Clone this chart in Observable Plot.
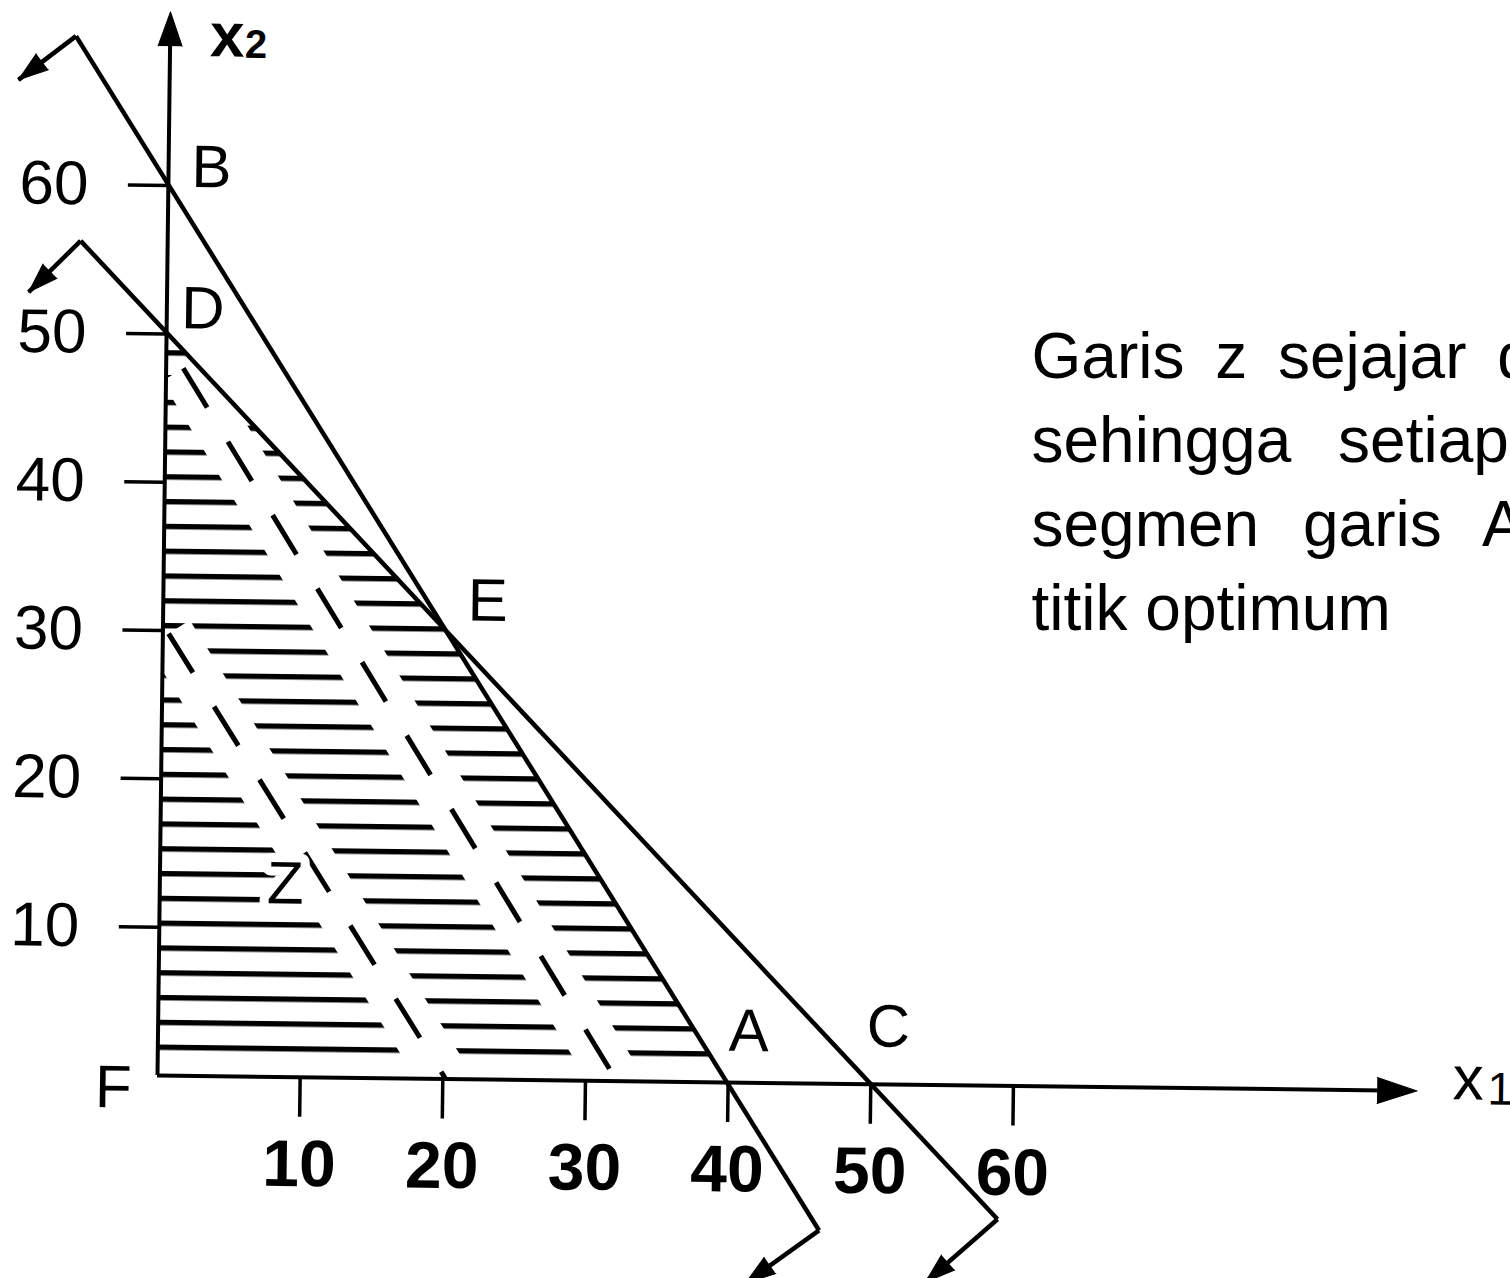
<!DOCTYPE html>
<html>
<head>
<meta charset="utf-8">
<script src="https://cdn.jsdelivr.net/npm/d3@7"></script>
<script src="https://cdn.jsdelivr.net/npm/@observablehq/plot@0.6"></script>
<style>
  html, body { margin: 0; padding: 0; background: #fff; overflow: hidden; }
  #chart svg { display: block; }
</style>
</head>
<body>
<div id="chart"></div>
<script>
// ---------- data ----------
const xTicks = [10, 20, 30, 40, 50, 60];
const yTicks = [10, 20, 30, 40, 50, 60];

// corner points of the graph
const points = [
  {name: "F", x: 0,  y: 0},
  {name: "A", x: 40, y: 0},
  {name: "E", x: 20, y: 30},
  {name: "D", x: 0,  y: 50},
  {name: "B", x: 0,  y: 60},
  {name: "C", x: 50, y: 0}
];

// upper boundary of the feasible region D-E-A
const feasibleBoundary = ["D", "E", "A"];

// constraint lines B–A (3x1+2x2=120) and D–C (x1+x2=50), as drawn (extended ends)
const constraintLines = [
  {name: "BA", x1: -6.6, y1: 70.0, x2: 46.5, y2: -9.9},
  {name: "DC", x1: -6.1, y1: 56.2, x2: 59.0, y2: -9.0}
];

// little direction arrows at the ends of the constraint lines
const directionHooks = [
  {x1: -6.6, y1: 70.0, x2: -10.6, y2: 67.0},
  {x1: -6.1, y1: 56.2, x2: -9.7,  y2: 52.7},
  {x1: 46.5, y1: -9.9, x2: 41.4,  y2: -13.5},
  {x1: 59.0, y1: -9.0, x2: 54.0,  y2: -13.3}
];

// dashed objective (z) lines, parallel to AE
const zLines = [
  {name: "z1", x1: 0.4, y1: 29.8, x2: 20.2, y2: 0},
  {name: "z2", x1: 1.2, y1: 47.7, x2: 32.2, y2: 0}
];
const zLabel = [{text: "Z", x: 8.8, y: 13.0}];

// ends of the axes (arrow tips)
const axisEnds = {x: 88.3, y: 71.7};

const noteLines = [
  "Garis z sejajar dengan",
  "sehingga setiap titik",
  "segmen garis AE",
  "titik optimum"
];

// ---------- layout & styles ----------
const W = 1510, H = 1278;
const frame = {left: 157, right: 1013, top: 185, bottom: 1075};
const kx = (frame.right - frame.left) / 60;   // px per x unit
const ky = (frame.bottom - frame.top) / 60;   // px per y unit
const font = "'Liberation Sans', Arial, Helvetica, sans-serif";
const labelOffsets = {B: [43, -18], D: [36, -25], E: [39, -33], A: [20, -51], C: [17, -57], F: [-44, 13]};
const noteWordSpacing = [13, 29, 26, 0];

const byName = Object.fromEntries(points.map(p => [p.name, p]));
const region = feasibleBoundary.map(n => byName[n]);
const hookAngle = d => Math.atan2((d.x2 - d.x1) * kx, (d.y2 - d.y1) * ky) * 180 / Math.PI;

const marks = [
  // hatched feasible region
  Plot.areaY(region, {x: "x", y: "y", fill: "url(#hatch)", stroke: "none"}),
  // keep hatch off the x axis
  Plot.ruleY([0], {x1: 0, x2: 41, stroke: "white", strokeWidth: 14}),
  // white bands that break the hatching along the z lines
  Plot.link(zLines, {x1: "x1", y1: "y1", x2: "x2", y2: "y2", stroke: "white", strokeWidth: 50}),
  // dashed z lines
  Plot.link(zLines, {x1: "x1", y1: "y1", x2: "x2", y2: "y2", stroke: "black", strokeWidth: 5, strokeDasharray: "46,40"}),
  // axes
  Plot.ruleX([0], {y1: 0, y2: axisEnds.y - 1, stroke: "black", strokeWidth: 4}),
  Plot.ruleY([0], {x1: 0, x2: axisEnds.x - 1, stroke: "black", strokeWidth: 4}),
  Plot.vector([{x: 0, y: axisEnds.y}], {x: "x", y: "y", anchor: "end", length: 34, rotate: 0, shape: "spike", r: 12, fill: "black", stroke: "black", strokeWidth: 1}),
  Plot.vector([{x: axisEnds.x, y: 0}], {x: "x", y: "y", anchor: "end", length: 40, rotate: 90, shape: "spike", r: 13, fill: "black", stroke: "black", strokeWidth: 1}),
  // constraint lines
  Plot.link(constraintLines, {x1: "x1", y1: "y1", x2: "x2", y2: "y2", stroke: "black", strokeWidth: 4.5}),
  // direction hooks with filled heads
  Plot.link(directionHooks, {x1: "x1", y1: "y1", x2: "x2", y2: "y2", stroke: "black", strokeWidth: 4.5}),
  Plot.vector(directionHooks, {x: "x2", y: "y2", anchor: "end", length: 30, rotate: hookAngle, shape: "spike", r: 10, fill: "black", stroke: "black", strokeWidth: 1}),
  // tick axes
  Plot.axisX({ticks: xTicks, tickSize: 40, tickPadding: 22, fontSize: 66, fontWeight: "bold", strokeWidth: 3.5, label: null, tickFormat: d => String(d)}),
  Plot.axisY({ticks: yTicks, tickSize: 40, tickPadding: 40, fontSize: 62, strokeWidth: 3.5, label: null, tickFormat: d => String(d)}),
  // point labels
  ...points.map(p => Plot.text([p], {x: "x", y: "y", text: "name", dx: labelOffsets[p.name][0], dy: labelOffsets[p.name][1], fontSize: 60, fill: "black"})),
  Plot.text(zLabel, {x: "x", y: "y", text: "text", fontSize: 60, fill: "black", stroke: "white", strokeWidth: 18, paintOrder: "stroke"}),
  // axis names
  Plot.text([{x: 0, y: axisEnds.y}], {x: "x", y: "y", text: () => "x", dx: 57, dy: 24, fontSize: 62, fontWeight: "bold", fill: "black"}),
  Plot.text([{x: 0, y: axisEnds.y}], {x: "x", y: "y", text: () => "2", dx: 86, dy: 32, fontSize: 40, fontWeight: "bold", fill: "black"}),
  Plot.text([{x: axisEnds.x, y: 0}], {x: "x", y: "y", text: () => "x", dx: 51, dy: -12, fontSize: 62, fill: "black"}),
  Plot.text([{x: axisEnds.x, y: 0}], {x: "x", y: "y", text: () => "1", dx: 83, dy: -2, fontSize: 46, fill: "black"}),
  // annotation (last mark: not rotated)
  Plot.text([noteLines.join("\n")], {frameAnchor: "top-right", textAnchor: "start", lineAnchor: "top", lineHeight: 1.31, dx: 18, dy: 133, fontSize: 64, fill: "black"})
];

const svg = Plot.plot({
  width: W,
  height: H,
  marginLeft: frame.left,
  marginRight: W - frame.right,
  marginTop: frame.top,
  marginBottom: H - frame.bottom,
  x: {domain: [0, 60], label: null},
  y: {domain: [0, 60], label: null},
  style: {fontFamily: font, background: "#fff", color: "#000"},
  marks
});

// hatch pattern
const defs = d3.select(svg).insert("defs", ":first-child");
const pat = defs.append("pattern")
  .attr("id", "hatch")
  .attr("patternUnits", "userSpaceOnUse")
  .attr("x", 0).attr("y", 2.9)
  .attr("width", 60).attr("height", 24.8);
pat.append("rect").attr("x", 0).attr("y", 0).attr("width", 60).attr("height", 5.4).attr("fill", "#000");

// word spacing of the annotation lines
const noteG = svg.lastElementChild;
d3.select(noteG).selectAll("tspan").each(function(d, i) {
  this.style.wordSpacing = (noteWordSpacing[i] || 0) + "px";
});

// the scanned drawing is slightly rotated: tilt everything except the annotation
const g = document.createElementNS("http://www.w3.org/2000/svg", "g");
g.setAttribute("transform", "rotate(0.7 157 1075)");
Array.from(svg.childNodes).forEach(c => {
  const n = c.nodeName.toLowerCase();
  if (c !== noteG && n !== "style" && n !== "defs") g.appendChild(c);
});
svg.insertBefore(g, noteG);

document.getElementById("chart").appendChild(svg);
</script>
</body>
</html>
